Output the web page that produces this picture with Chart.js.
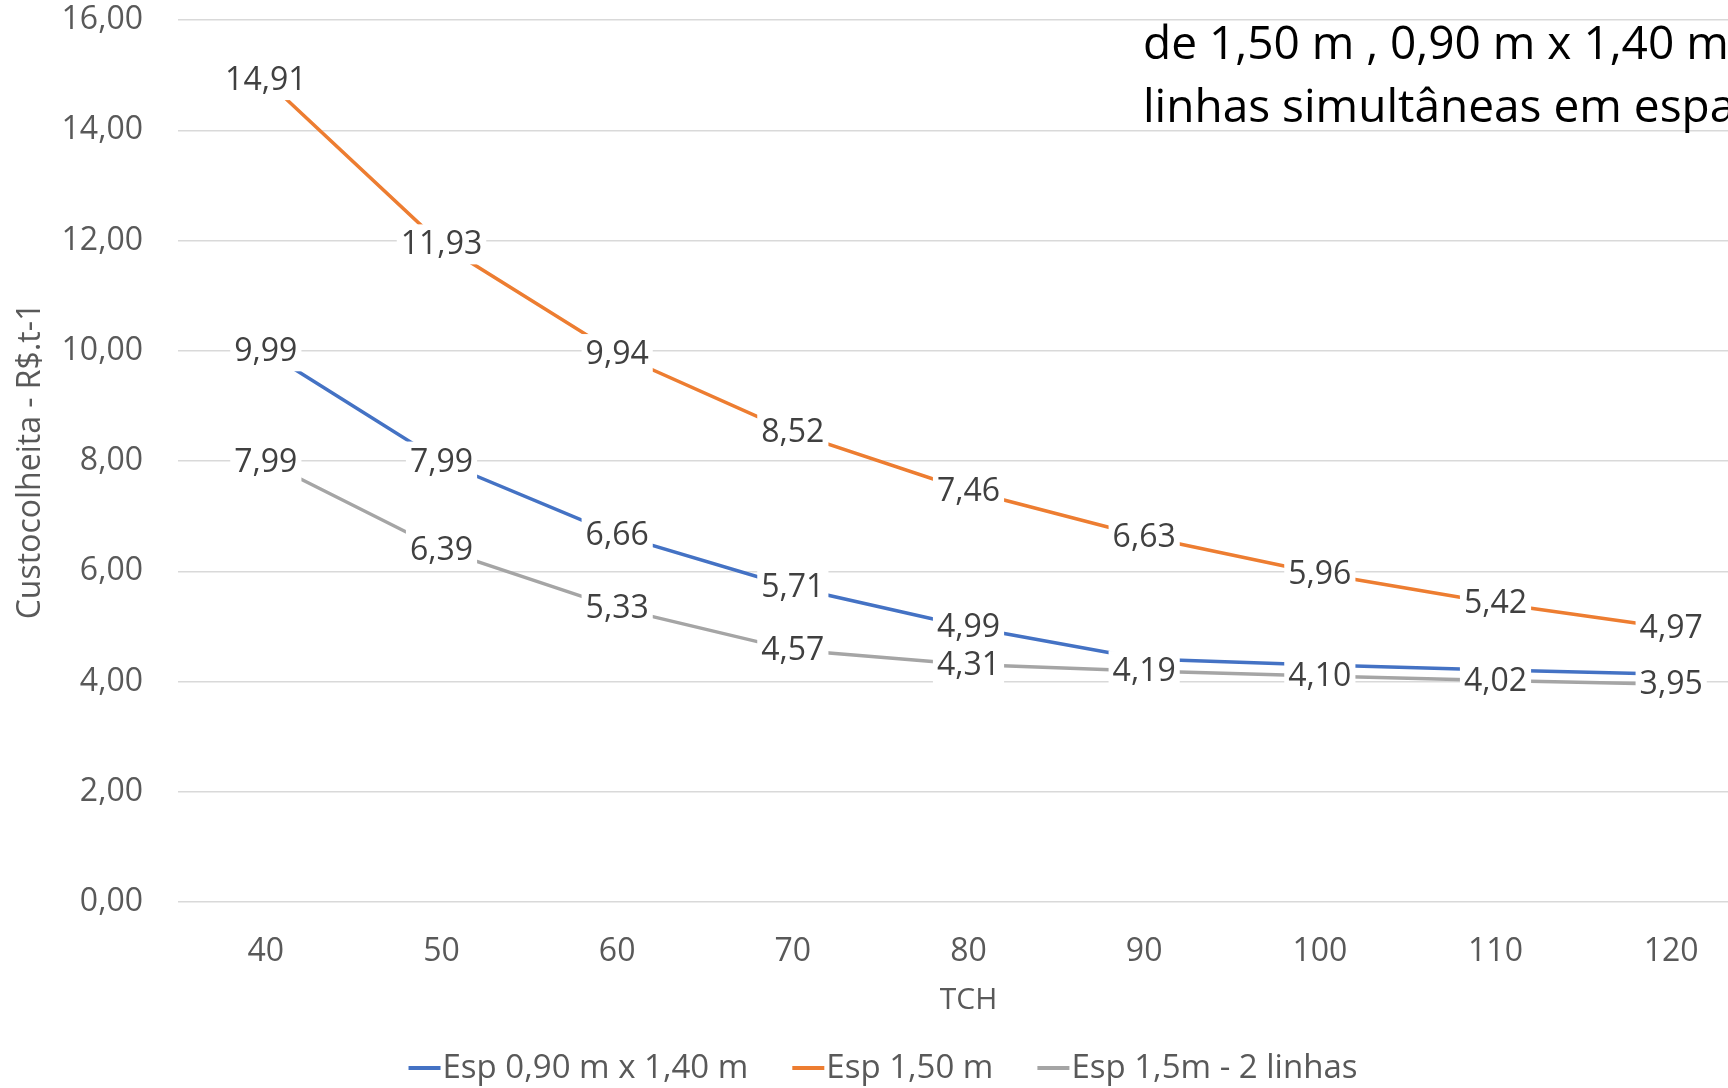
<!DOCTYPE html>
<html>
<head>
<meta charset="utf-8">
<script src="https://cdn.jsdelivr.net/npm/chart.js@4.4.1/dist/chart.umd.min.js"></script>
<style>
  html, body { margin: 0; padding: 0; background: #fff; overflow: hidden; }
  #wrap { position: relative; width: 1766px; height: 1088px; }
  #note {
    position: absolute; left: 1143px; top: 10px; white-space: nowrap;
    font-family: 'Open Sans', sans-serif; font-size: 46px; line-height: 63px; color: #000;
  }
</style>
</head>
<body>
<div id="wrap">
  <canvas id="costChart" width="1766" height="1088"></canvas>
  <div id="note">de 1,50 m , 0,90 m x 1,40 m e 2<br>linhas simultâneas em espaçamento</div>
</div>
<script>
// ===== DATA =====
const tch = ['40', '50', '60', '70', '80', '90', '100', '110', '120'];
const esp090x140 = [9.99, 7.99, 6.66, 5.71, 4.99, 4.41, 4.30, 4.21, 4.13];
const esp150 = [14.91, 11.93, 9.94, 8.52, 7.46, 6.63, 5.96, 5.42, 4.97];
const esp15dupla = [7.99, 6.39, 5.33, 4.57, 4.31, 4.19, 4.10, 4.02, 3.95];
// blue labels past 80 are hidden behind the grey ones in the original
const esp090Labels = [true, true, true, true, true, false, false, false, false];
const yTicks = [0, 2, 4, 6, 8, 10, 12, 14, 16];

const fmt = v => v.toFixed(2).replace('.', ',');

// labels sit on the point with a white box behind, like Excel's "center" labels
const pointLabels = {
  id: 'pointLabels',
  afterDatasetsDraw(chart) {
    const ctx = chart.ctx;
    ctx.save();
    ctx.font = "32px 'Open Sans', sans-serif";
    ctx.textAlign = 'center';
    ctx.textBaseline = 'middle';
    chart.data.datasets.forEach((ds, i) => {
      const meta = chart.getDatasetMeta(i);
      meta.data.forEach((pt, j) => {
        if (ds.showLabel && !ds.showLabel[j]) return;
        const txt = fmt(ds.data[j]);
        const w = ctx.measureText(txt).width + 8;
        const h = 40;
        ctx.fillStyle = '#fff';
        ctx.fillRect(pt.x - w / 2, pt.y - h / 2, w, h);
        ctx.fillStyle = '#404040';
        ctx.fillText(txt, pt.x, pt.y + 1);
      });
    });
    ctx.restore();
  }
};

// Excel-style legend: short line glued to the text, centred under the canvas
const lineLegend = {
  id: 'lineLegend',
  afterDraw(chart) {
    const ctx = chart.ctx;
    const mark = 32, gap = 2, between = 44, y = 1068;
    ctx.save();
    ctx.font = "33px 'Open Sans', sans-serif";
    ctx.textBaseline = 'middle';
    const items = chart.data.datasets.map(ds => ({ ds, w: ctx.measureText(ds.label).width }));
    const total = items.reduce((s, it) => s + mark + gap + it.w, 0) + between * (items.length - 1);
    let x = chart.width / 2 - total / 2;
    items.forEach(it => {
      ctx.fillStyle = it.ds.borderColor;
      ctx.fillRect(x, y - 2, mark, 4);
      ctx.fillStyle = '#595959';
      ctx.fillText(it.ds.label, x + mark + gap, y + 1);
      x += mark + gap + it.w + between;
    });
    ctx.restore();
  }
};

Chart.defaults.color = '#595959';
Chart.defaults.font.family = "'Open Sans', sans-serif";

new Chart(document.getElementById('costChart'), {
  type: 'line',
  data: {
    labels: tch,
    datasets: [
      { label: 'Esp 0,90 m x 1,40 m', data: esp090x140, showLabel: esp090Labels,
        borderColor: '#4472C4', backgroundColor: '#4472C4' },
      { label: 'Esp 1,50 m', data: esp150,
        borderColor: '#ED7D31', backgroundColor: '#ED7D31' },
      { label: 'Esp 1,5m - 2 linhas', data: esp15dupla,
        borderColor: '#A5A5A5', backgroundColor: '#A5A5A5' }
    ].map(d => Object.assign(d, { borderWidth: 3.5, pointRadius: 0, tension: 0, fill: false }))
  },
  options: {
    responsive: false,
    animation: false,
    layout: { padding: { top: 0, right: 7, left: 0, bottom: 52 } },
    scales: {
      x: {
        offset: true,
        grid: { display: false, drawTicks: false },
        border: { display: false },
        ticks: { padding: 31, font: { size: 32 }, color: '#595959' },
        title: { display: true, text: 'TCH', font: { size: 30 }, color: '#595959', padding: { top: 0, bottom: 18 } },
        afterFit: s => { s.height = 134; s.paddingLeft = 0; s.paddingRight = 0; }
      },
      y: {
        min: 0,
        max: 16,
        afterBuildTicks: s => { s.ticks = yTicks.map(v => ({ value: v })); },
        grid: { color: '#D9D9D9', lineWidth: 1.5, drawTicks: false },
        border: { display: false },
        ticks: { padding: 35, font: { size: 32 }, color: '#595959', callback: v => fmt(v) },
        title: { display: true, text: 'Custocolheita - R$.t-1', font: { size: 32 }, color: '#595959', padding: { top: 12, bottom: 0 } },
        afterFit: s => { s.width = 178; s.paddingTop = 20; s.paddingBottom = 0; }
      }
    },
    plugins: {
      legend: { display: false },
      tooltip: { enabled: false }
    }
  },
  plugins: [pointLabels, lineLegend]
});
</script>
</body>
</html>
